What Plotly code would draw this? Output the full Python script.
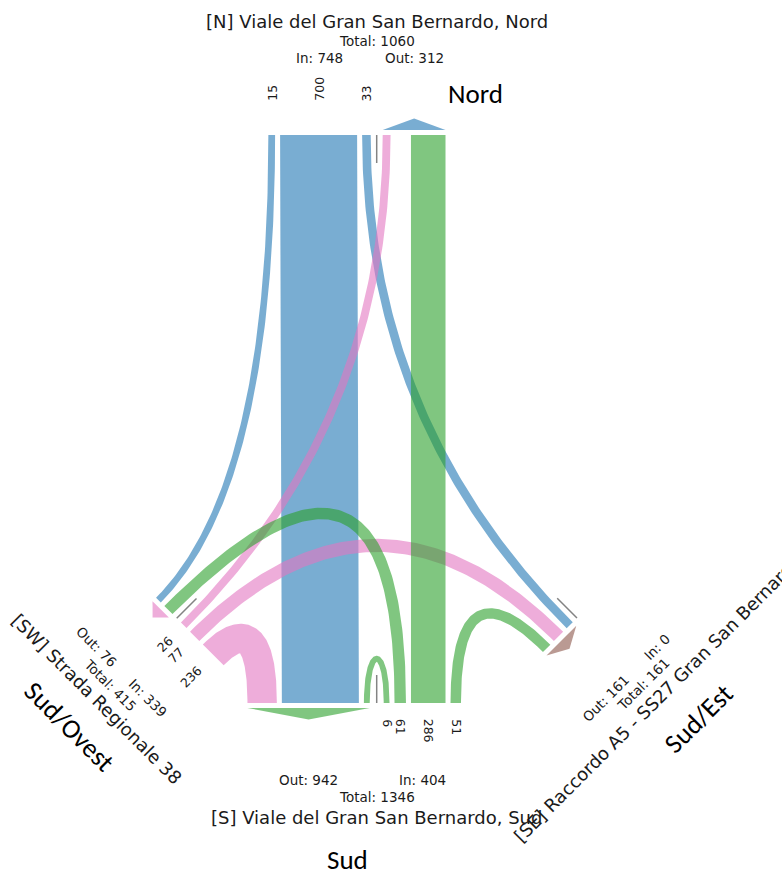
import numpy as np
import plotly.graph_objects as go

# ---------------- data ----------------
arm_ids = ["N", "SW", "S", "SE"]
arm_titles = ["[N] Viale del Gran San Bernardo, Nord",
              "[SW] Strada Regionale 38",
              "[S] Viale del Gran San Bernardo, Sud",
              "[SE] Raccordo A5 - SS27 Gran San Bernardo"]
compass_labels = ["Nord", "Sud/Ovest", "Sud", "Sud/Est"]

flow_from = ["N", "N", "N", "SW", "SW", "SW", "S", "S", "S", "S"]
flow_to = ["SW", "S", "SE", "N", "SE", "S", "S", "SW", "N", "SE"]
flow_count = [15, 700, 33, 26, 77, 236, 6, 61, 286, 51]

# ---------------- layout / style ----------------
W, H = 782, 872
R = np.sqrt(0.5)
ARM = {
    "N": dict(M=(376.7, 135.0), u=(1.0, 0.0), d=(0.0, 1.0), med=6.0, in_side=-1, lab=34.0, color=(31, 119, 180)),
    "SW": dict(M=(176.7, 618.3), u=(R, R), d=(R, -R), med=6.0, in_side=1, lab=19.0, color=(227, 119, 194)),
    "S": dict(M=(376.7, 703.0), u=(1.0, 0.0), d=(0.0, -1.0), med=7.0, in_side=1, lab=16.0, color=(44, 160, 44)),
    "SE": dict(M=(577.0, 618.0), u=(-R, R), d=(-R, -R), med=6.0, in_side=-1, lab=19.0, color=(140, 86, 75)),
}
# lane order from the median outwards; None = reserved empty slot
LANES_IN = {
    "N": [("N", "SE"), ("N", "S"), ("N", "SW")],
    "SW": [("SW", "N"), ("SW", "SE"), ("SW", "S")],
    "S": [("S", "S"), ("S", "SW"), ("S", "N"), ("S", "SE")],
    "SE": [],
}
LANES_OUT = {
    "N": [("SW", "N"), None, ("S", "N")],
    "SW": [("S", "SW"), ("N", "SW")],
    "S": [("S", "S"), ("N", "S"), ("SW", "S")],
    "SE": [("N", "SE"), ("SW", "SE"), ("S", "SE")],
}
W0, K = 5.2, 0.1026      # lane width = W0 + K * count
GAP, EMPTY_SLOT = 5.0, 10.4
UTURN = 59.0
ALPHA = 0.6
MEDIAN_LEN = 28.0
FONT = "DejaVu Sans"
TXT = "#1a1a1a"
FS_TITLE, FS_SUM, FS_LANE = 18, 13.5, 12.5
OFF_INOUT, OFF_TOTAL, OFF_TITLE = 77.0, 94.0, 114.0
MIN_SUM_S = 36.0
compass_pos = {"Nord": (475, 93, 0), "Sud/Ovest": (70, 726, 45), "Sud": (347.5, 859, 0), "Sud/Est": (698, 718, -45)}

val = {(f, t): v for f, t, v in zip(flow_from, flow_to, flow_count)}
title_of = dict(zip(arm_ids, arm_titles))


def width(v):
    return W0 + K * v


def rgba(c, a=ALPHA):
    return "rgba(%d,%d,%d,%.2f)" % (c[0], c[1], c[2], a)


def pt(a, s, n):
    g = ARM[a]
    M, u, d = np.array(g["M"]), np.array(g["u"]), np.array(g["d"])
    return M + s * u - n * d


pos, span = {}, {}
for a in arm_ids:
    g = ARM[a]
    for kind, lst, side in (("in", LANES_IN[a], g["in_side"]), ("out", LANES_OUT[a], -g["in_side"])):
        cur = g["med"]
        start = cur
        for key in lst:
            if key is None:
                cur += EMPTY_SLOT + GAP
                continue
            w = width(val[key])
            pos[(a, kind, key)] = (side * (cur + w / 2), w)
            cur += w + GAP
        span[(a, kind)] = (side * start, side * (cur - GAP)) if lst else None

fig = go.Figure()

# ---------------- ribbons ----------------
tt = np.linspace(0, 1, 120)
for f, t, v in zip(flow_from, flow_to, flow_count):
    key = (f, t)
    s0, w = pos[(f, "in", key)]
    s3, _ = pos[(t, "out", key)]
    P0, P3 = pt(f, s0, 0), pt(t, s3, 0)
    d0, d3 = np.array(ARM[f]["d"]), np.array(ARM[t]["d"])
    cr = d0[0] * d3[1] - d0[1] * d3[0]
    if f == t:
        P1, P2 = P0 + UTURN * d0, P3 + UTURN * d3
    elif abs(cr) < 1e-9:
        L = np.linalg.norm(P3 - P0) / 3
        P1, P2 = P0 + L * d0, P3 + L * d3
    else:
        ab = np.linalg.solve(np.column_stack([d0, -d3]), P3 - P0)
        C = P0 + ab[0] * d0
        P1, P2 = P0 + 2 / 3 * (C - P0), P3 + 2 / 3 * (C - P3)
    T = tt[:, None]
    B = (1 - T) ** 3 * P0 + 3 * (1 - T) ** 2 * T * P1 + 3 * (1 - T) * T ** 2 * P2 + T ** 3 * P3
    dB = 3 * (1 - T) ** 2 * (P1 - P0) + 6 * (1 - T) * T * (P2 - P1) + 3 * T ** 2 * (P3 - P2)
    nrm = np.column_stack([-dB[:, 1], dB[:, 0]])
    nrm /= np.linalg.norm(nrm, axis=1)[:, None]
    left, right = B + nrm * w / 2, B - nrm * w / 2
    poly = np.vstack([left, right[::-1], left[:1]])
    fig.add_trace(go.Scatter(x=poly[:, 0], y=poly[:, 1], mode="lines", fill="toself",
                             fillcolor=rgba(ARM[f]["color"]), line=dict(width=0),
                             hoverinfo="skip", showlegend=False))

# ---------------- medians & arrows ----------------
for a in arm_ids:
    g = ARM[a]
    p1, p2 = pt(a, 0, 0), pt(a, 0, -MEDIAN_LEN)
    fig.add_trace(go.Scatter(x=[p1[0], p2[0]], y=[p1[1], p2[1]], mode="lines",
                             line=dict(color="rgba(90,90,90,0.75)", width=1.5),
                             hoverinfo="skip", showlegend=False))
    sp = span[(a, "out")]
    if sp:
        b1, b2 = pt(a, sp[0], 5), pt(a, sp[1], 5)
        ap = pt(a, (sp[0] + sp[1]) / 2, 16.5)
        tri = np.array([b1, b2, ap, b1])
        fig.add_trace(go.Scatter(x=tri[:, 0], y=tri[:, 1], mode="lines", fill="toself",
                                 fillcolor=rgba(g["color"]), line=dict(width=0),
                                 hoverinfo="skip", showlegend=False))


def norm_angle(ang):
    if ang > 90:
        ang -= 180
    if ang < -90:
        ang += 180
    return ang


ann = []
for a in arm_ids:
    g = ARM[a]
    u, d = np.array(g["u"]), np.array(g["d"])
    ang_base = norm_angle(np.degrees(np.arctan2(u[1], u[0])))
    ang_out = norm_angle(np.degrees(np.arctan2(-d[1], -d[0])))
    # lane value labels (flows entering the junction)
    for key in LANES_IN[a]:
        s, w = pos[(a, "in", key)]
        txt = str(val[key])
        L = len(txt) * 0.636 * FS_LANE
        p = pt(a, s, g["lab"] + L / 2)
        ann.append(dict(x=p[0], y=p[1], text=txt, textangle=ang_out,
                        font=dict(family=FONT, size=FS_LANE, color=TXT)))
    tot_in = sum(val[k] for k in LANES_IN[a])
    tot_out = sum(val[k] for k in LANES_OUT[a] if k is not None)
    for kind, label, tot, side in (("in", "In", tot_in, g["in_side"]), ("out", "Out", tot_out, -g["in_side"])):
        sp = span[(a, kind)]
        c = abs((sp[0] + sp[1]) / 2) if sp else 0
        p = pt(a, side * max(c, MIN_SUM_S), OFF_INOUT)
        ann.append(dict(x=p[0], y=p[1], text="%s: %d" % (label, tot), textangle=ang_base,
                        font=dict(family=FONT, size=FS_SUM, color=TXT)))
    p = pt(a, 0, OFF_TOTAL)
    ann.append(dict(x=p[0], y=p[1], text="Total: %d" % (tot_in + tot_out), textangle=ang_base,
                    font=dict(family=FONT, size=FS_SUM, color=TXT)))
    p = pt(a, 0, OFF_TITLE)
    ann.append(dict(x=p[0], y=p[1], text=title_of[a], textangle=ang_base,
                    font=dict(family=FONT, size=FS_TITLE, color=TXT)))

for lab in compass_labels:
    x, y, ang = compass_pos[lab]
    ann.append(dict(x=x, y=y, text=lab, textangle=ang,
                    font=dict(family="Carlito, Lato, sans-serif", size=27, color="#000000")))

for an in ann:
    an.update(xref="x", yref="y", showarrow=False, xanchor="center", yanchor="middle")

fig.update_layout(
    width=W, height=H, margin=dict(l=0, r=0, t=0, b=0),
    paper_bgcolor="white", plot_bgcolor="white", showlegend=False,
    xaxis=dict(range=[0, W], visible=False, fixedrange=True),
    yaxis=dict(range=[H, 0], visible=False, fixedrange=True),
    annotations=ann,
)

fig.write_html("out.html", config={"displayModeBar": False, "staticPlot": True},
               post_script="document.body.style.margin='0';document.body.style.overflow='hidden';")
